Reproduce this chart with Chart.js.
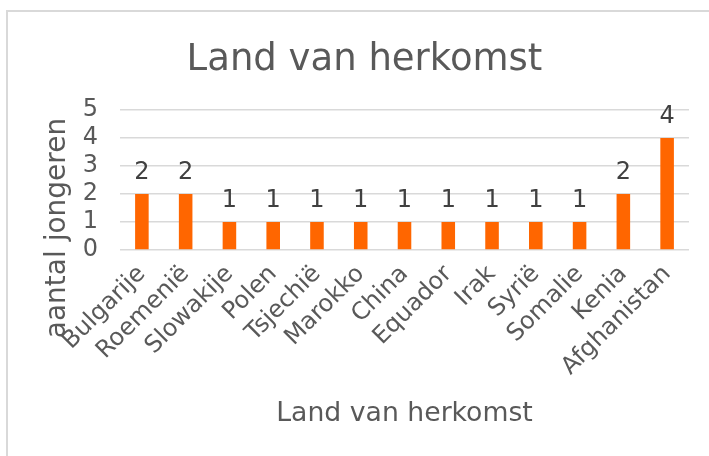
<!DOCTYPE html>
<html><head><meta charset="utf-8">
<script src="https://cdn.jsdelivr.net/npm/chart.js@4/dist/chart.umd.min.js"></script>
<style>
html,body{margin:0;padding:0;background:#fff;overflow:hidden;}
#frame{position:absolute;left:6px;top:10px;width:800px;height:600px;border-left:2px solid #d9d9d9;border-top:2px solid #d9d9d9;}
#wrap{position:absolute;left:0;top:0;width:709px;height:456px;}
</style></head><body>
<div id="frame"></div>
<div id="wrap"><canvas id="c"></canvas></div>
<script>
const categories = ['Bulgarije','Roemenië','Slowakije','Polen','Tsjechië','Marokko','China','Equador','Irak','Syrië','Somalie','Kenia','Afghanistan'];
const values = [2,2,1,1,1,1,1,1,1,1,1,2,4];
const yTicks = [0,1,2,3,4,5];
const chartTitle = 'Land van herkomst';
const xTitle = 'Land van herkomst';
const yTitle = 'aantal jongeren';

const FONT = '"DejaVu Sans", Verdana, sans-serif';
const TXT = '#595959';

const textPlugin = {
  id: 'texts',
  afterDatasetsDraw(chart) {
    const ctx = chart.ctx;
    const meta = chart.getDatasetMeta(0);
    ctx.save();
    ctx.font = '24px ' + FONT;
    ctx.fillStyle = '#404040';
    ctx.textAlign = 'center';
    ctx.textBaseline = 'alphabetic';
    meta.data.forEach((bar, i) => {
      ctx.fillText(String(values[i]), bar.x, bar.y - 15);
    });
    ctx.restore();
  },
  afterDraw(chart) {
    const ctx = chart.ctx;
    ctx.save();
    ctx.fillStyle = TXT;
    ctx.textBaseline = 'alphabetic';
    ctx.textAlign = 'center';
    ctx.font = '37px ' + FONT;
    ctx.fillText(chartTitle, 364.5, 70);
    ctx.font = '28px ' + FONT;
    ctx.translate(65, 228);
    ctx.rotate(-Math.PI / 2);
    ctx.fillText(yTitle, 0, 0);
    ctx.restore();
  }
};

new Chart(document.getElementById('c'), {
  type: 'bar',
  data: {
    labels: categories,
    datasets: [{
      data: values,
      backgroundColor: '#FF6600',
      borderWidth: 0,
      barPercentage: 0.31,
      categoryPercentage: 1.0
    }]
  },
  options: {
    responsive: true,
    maintainAspectRatio: false,
    animation: false,
    layout: { padding: { top: 110, right: 20, bottom: 26, left: 0 } },
    plugins: { legend: { display: false }, tooltip: { enabled: false }, title: { display: false } },
    scales: {
      x: {
        grid: { display: false },
        border: { display: false },
        ticks: {
          color: TXT, font: { family: FONT, size: 24 },
          maxRotation: 45, minRotation: 45, autoSkip: false, padding: 2
        },
        title: { display: true, text: xTitle, color: TXT, font: { family: FONT, size: 26.7 }, padding: 0 },
        afterFit(s) { s.height = 180; }
      },
      y: {
        min: 0, max: 5,
        grid: { color: '#d9d9d9', lineWidth: 1.5, drawTicks: false },
        border: { display: false },
        ticks: { color: TXT, font: { family: FONT, size: 24 }, padding: 22, stepSize: 1, autoSkip: false },
        afterBuildTicks(s) { s.ticks = yTicks.map(v => ({ value: v })); },
        afterFit(s) { s.width = 120; }
      }
    }
  },
  plugins: [textPlugin]
});
</script>
</body></html>
